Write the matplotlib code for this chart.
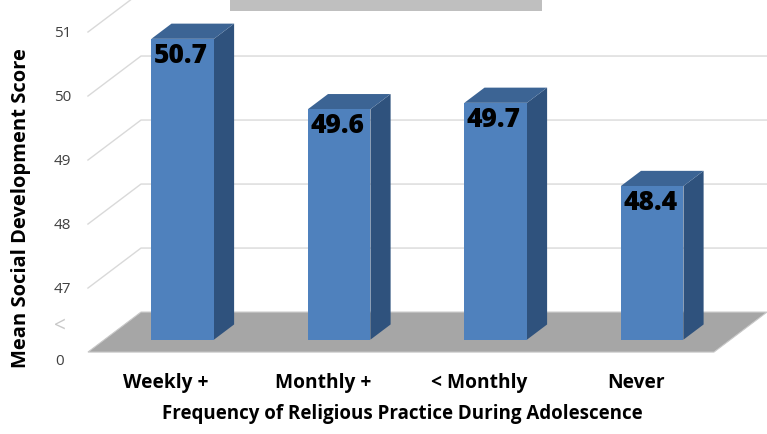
import matplotlib.pyplot as plt
from matplotlib.patches import Polygon, Rectangle

# data
categories = ['Weekly +', 'Monthly +', '< Monthly', 'Never']
scores = [50.7, 49.6, 49.7, 48.4]
tick_values = [47, 48, 49, 50, 51]
floor_value = 46

# 3d look (in data units)
DX = 0.339      # depth shift along x (categories)
DY = 0.625      # depth shift along y (values)
f0, f1 = 0.31, 0.69   # bar front / back position inside the depth
bar_w = 0.40

front_col = '#4F81BD'
top_col = '#3C6494'
side_col = '#2F527D'
grid_col = '#D9D9D9'

plt.rcParams['font.family'] = ['Open Sans', 'DejaVu Sans']

fig = plt.figure(figsize=(7.67, 4.35), dpi=100)
ax = fig.add_axes([0, 0, 1, 1])
ax.set_xlim(-1.062, 3.839)
ax.set_ylim(44.72, 51.516)
ax.axis('off')

n = len(categories)
x0, x1 = -0.5, n - 0.5

# gridlines: left wall diagonals + back wall horizontals
for v in tick_values:
    ax.plot([x0, x0 + DX, x1 + DX], [v, v + DY, v + DY], color=grid_col, lw=1, zorder=1)
    ax.annotate(str(v), (x0, v), xytext=(-17, 0), textcoords='offset pixels',
                ha='right', va='center', fontsize=11, color='#404040')

# axis break + zero label
ax.annotate('0', (x0, floor_value), xytext=(-28, -8), textcoords='offset pixels',
            ha='center', va='center', fontsize=11, color='#404040')
ax.annotate('<', (x0, floor_value + 0.42), xytext=(-28, 0), textcoords='offset pixels',
            ha='center', va='center', fontsize=15, color='#C8C8C8')

# floor
floor = Polygon([(x0, floor_value), (x1, floor_value),
                 (x1 + DX, floor_value + DY), (x0 + DX, floor_value + DY)],
                closed=True, facecolor='#A6A6A6', edgecolor='#C8C8C8', lw=0.8, zorder=2)
ax.add_patch(floor)

# bars
for i, v in enumerate(scores):
    l = i - bar_w / 2
    r = i + bar_w / 2
    fx, fy = f0 * DX, f0 * DY
    bx, by = f1 * DX, f1 * DY
    front = Polygon([(l + fx, floor_value + fy), (r + fx, floor_value + fy),
                     (r + fx, v + fy), (l + fx, v + fy)], closed=True,
                    facecolor=front_col, edgecolor='none', zorder=4)
    side = Polygon([(r + fx, floor_value + fy), (r + bx, floor_value + by),
                    (r + bx, v + by), (r + fx, v + fy)], closed=True,
                   facecolor=side_col, edgecolor='none', zorder=3)
    top = Polygon([(l + fx, v + fy), (r + fx, v + fy),
                   (r + bx, v + by), (l + bx, v + by)], closed=True,
                  facecolor=top_col, edgecolor='none', zorder=3)
    for p in (side, top, front):
        ax.add_patch(p)
    ax.annotate(f'{v:.1f}', (i + fx, v + fy), xytext=(-2, -3), textcoords='offset pixels',
                ha='center', va='top', fontsize=19, fontweight='extra bold', color='black', zorder=5)
    ax.annotate(categories[i], (i, floor_value), xytext=(0, -30), textcoords='offset pixels',
                ha='center', va='center', fontsize=13.8, fontweight='bold', color='black')

fig.text(402 / 767, 1 - 414 / 435, 'Frequency of Religious Practice During Adolescence',
         ha='center', va='center', fontsize=13.5, fontweight='bold')
fig.text(21 / 767, 1 - 208 / 435, 'Mean Social Development Score', rotation=90,
         ha='center', va='center', fontsize=14.5, fontweight='bold')

# title box cut off at the top
fig.patches.append(Rectangle((230 / 767, 1 - 12 / 435), 312 / 767, 12 / 435,
                             transform=fig.transFigure, facecolor='#BFBFBF',
                             edgecolor='none', figure=fig))

fig.savefig('out.png', dpi=100)
